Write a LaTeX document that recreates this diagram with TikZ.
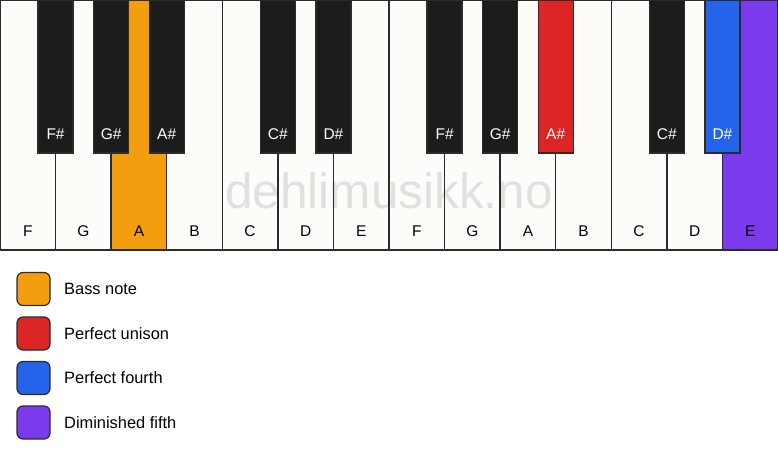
\documentclass[tikz,border=0pt]{standalone}
\usepackage{fontspec}
\setmainfont{Liberation Sans}
\definecolor{keywhite}{HTML}{FDFCF9}
\definecolor{keyblack}{HTML}{1C1C1C}
\definecolor{keyline}{HTML}{2B2B2B}
\definecolor{bassc}{HTML}{F39E0E}
\definecolor{unisonc}{HTML}{DC2626}
\definecolor{fourthc}{HTML}{2563EB}
\definecolor{fifthc}{HTML}{7C3AED}
\definecolor{wmark}{HTML}{E0E0E0}
\tikzset{
  whitekey/.style={draw=keyline, line width=1.5pt, fill=keywhite},
  blackkey/.style={draw=keyline, line width=1.2pt, fill=keyblack},
  wlabel/.style={anchor=base, font=\fontsize{15.5}{18}\selectfont, text=black, inner sep=0pt},
  blabel/.style={anchor=base, font=\fontsize{15.5}{18}\selectfont, text=white, inner sep=0pt},
  legbox/.style={draw=keyline, line width=1.2pt, rounded corners=6pt, minimum width=33pt, minimum height=33pt, inner sep=0pt},
  legtext/.style={anchor=west, font=\fontsize{16.4}{19}\selectfont, inner sep=0pt},
}
\begin{document}
\begin{tikzpicture}[x=1pt,y=-1pt]
\useasboundingbox (0,0) rectangle (778,461);
\fill[white] (0,0) rectangle (778,461);
\pgfmathsetmacro{\W}{778/14}
% white key fills
\foreach \i/\c in {0/keywhite,1/keywhite,2/bassc,3/keywhite,4/keywhite,5/keywhite,6/keywhite,7/keywhite,8/keywhite,9/keywhite,10/keywhite,11/keywhite,12/keywhite,13/fifthc}{
  \fill[\c] (\i*\W,0) rectangle ({(\i+1)*\W},250);
}
% watermark
\node[font=\fontsize{49.5}{52}\selectfont, text=wmark, anchor=base, inner sep=0pt] (wm) at (389,208.5) {dehlimusikk.no};
% white key outlines
\foreach \i in {0,...,13}{
  \draw[draw=keyline, line width=1.5pt] (\i*\W,0) rectangle ({(\i+1)*\W},250);
}
% white key labels
\foreach \i/\n in {0/F,1/G,2/A,3/B,4/C,5/D,6/E,7/F,8/G,9/A,10/B,11/C,12/D,13/E}{
  \node[wlabel] (w\i) at ({(\i+0.5)*\W},236) {\n};
}
% black keys
\foreach \b/\n/\c in {1/F\#/keyblack,2/G\#/keyblack,3/A\#/keyblack,5/C\#/keyblack,6/D\#/keyblack,8/F\#/keyblack,9/G\#/keyblack,10/A\#/unisonc,12/C\#/keyblack,13/D\#/fourthc}{
  \path[blackkey, fill=\c] ({\b*\W-17.5},0) rectangle ({\b*\W+17.5},153);
  \node[blabel] (b\b) at ({\b*\W},139) {\n};
}
% legend
\node[legbox, fill=bassc] (l1) at (33.5,289) {};
\node[legtext] (t1) at (64,289) {Bass note};
\node[legbox, fill=unisonc] (l2) at (33.5,333.5) {};
\node[legtext] (t2) at (64,333.5) {Perfect unison};
\node[legbox, fill=fourthc] (l3) at (33.5,378) {};
\node[legtext] (t3) at (64,378) {Perfect fourth};
\node[legbox, fill=fifthc] (l4) at (33.5,422.5) {};
\node[legtext] (t4) at (64,422.5) {Diminished fifth};
\end{tikzpicture}
\end{document}
